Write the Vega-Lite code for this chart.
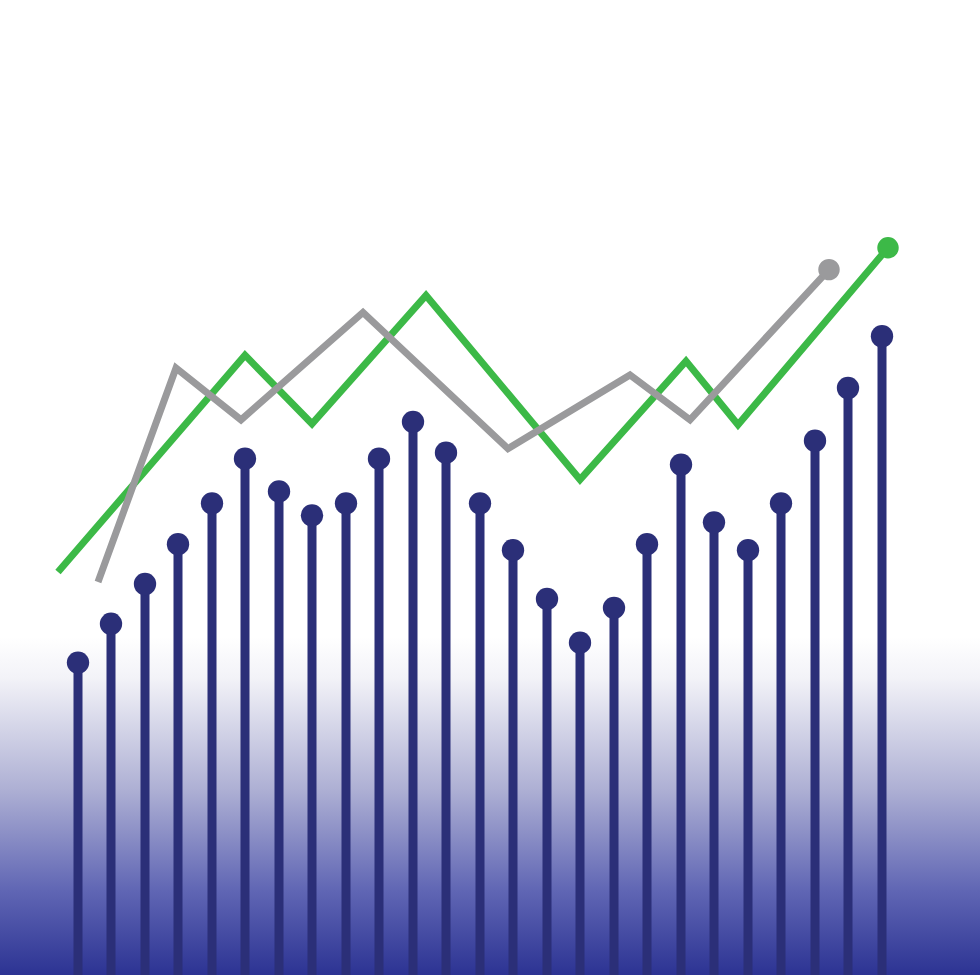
{
  "$schema": "https://vega.github.io/schema/vega-lite/v6.json",
  "autosize": {"type": "fit", "contains": "padding"},
  "width": 980,
  "height": 980,
  "padding": 0,
  "background": "white",
  "config": {"view": {"stroke": null}},
  "datasets": {
    "bg": [{"x": 0, "x2": 980, "y": 0, "y2": 340}],
    "bars": [
      {"x": 78, "v": 314}, {"x": 111, "v": 353}, {"x": 145, "v": 393}, {"x": 178, "v": 433},
      {"x": 212, "v": 474}, {"x": 245, "v": 519}, {"x": 279, "v": 486}, {"x": 312, "v": 462},
      {"x": 346, "v": 474}, {"x": 379, "v": 519}, {"x": 413, "v": 556}, {"x": 446, "v": 525},
      {"x": 480, "v": 474}, {"x": 513, "v": 427}, {"x": 547, "v": 378}, {"x": 580, "v": 334},
      {"x": 614, "v": 369}, {"x": 647, "v": 433}, {"x": 681, "v": 513}, {"x": 714, "v": 455},
      {"x": 748, "v": 427}, {"x": 781, "v": 474}, {"x": 815, "v": 537}, {"x": 848, "v": 590},
      {"x": 882, "v": 642}
    ],
    "lines": [
      {"series": "green", "i": 0, "x": 58, "v": 405},
      {"series": "green", "i": 1, "x": 245, "v": 623},
      {"series": "green", "i": 2, "x": 312, "v": 554},
      {"series": "green", "i": 3, "x": 426, "v": 683},
      {"series": "green", "i": 4, "x": 580, "v": 498},
      {"series": "green", "i": 5, "x": 686, "v": 617},
      {"series": "green", "i": 6, "x": 738, "v": 553},
      {"series": "green", "i": 7, "x": 888, "v": 731},
      {"series": "gray", "i": 0, "x": 98, "v": 395},
      {"series": "gray", "i": 1, "x": 176, "v": 610},
      {"series": "gray", "i": 2, "x": 241, "v": 558},
      {"series": "gray", "i": 3, "x": 363, "v": 666},
      {"series": "gray", "i": 4, "x": 508, "v": 529},
      {"series": "gray", "i": 5, "x": 630, "v": 603},
      {"series": "gray", "i": 6, "x": 690, "v": 558},
      {"series": "gray", "i": 7, "x": 829, "v": 709}
    ],
    "ends": [
      {"series": "green", "x": 888, "v": 731},
      {"series": "gray", "x": 829, "v": 709}
    ]
  },
  "encoding": {
    "x": {"field": "x", "type": "quantitative", "scale": {"domain": [0, 980], "nice": false, "zero": false}, "axis": null}
  },
  "layer": [
    {
      "data": {"name": "bg"},
      "mark": {
        "type": "rect",
        "fill": {
          "gradient": "linear", "x1": 0, "y1": 0, "x2": 0, "y2": 1,
          "stops": [
            {"offset": 0, "color": "#ffffff"},
            {"offset": 0.12, "color": "#f3f3f8"},
            {"offset": 0.45, "color": "#aeb0d4"},
            {"offset": 0.75, "color": "#6066b4"},
            {"offset": 1, "color": "#2c3393"}
          ]
        }
      },
      "encoding": {
        "x2": {"field": "x2"},
        "y": {"field": "y", "type": "quantitative", "scale": {"domain": [5, 980], "nice": false, "zero": false}, "axis": null},
        "y2": {"field": "y2"}
      }
    },
    {
      "data": {"name": "bars"},
      "mark": {"type": "rule", "strokeWidth": 9, "color": "#2b2f78"},
      "encoding": {
        "y": {"field": "v", "type": "quantitative", "scale": {"domain": [5, 980], "nice": false, "zero": false}, "axis": null},
        "y2": {"datum": 0}
      }
    },
    {
      "data": {"name": "bars"},
      "mark": {"type": "circle", "size": 500, "opacity": 1, "color": "#2b2f78"},
      "encoding": {
        "y": {"field": "v", "type": "quantitative", "scale": {"domain": [5, 980], "nice": false, "zero": false}, "axis": null}
      }
    },
    {
      "data": {"name": "lines"},
      "mark": {"type": "line", "strokeWidth": 7, "strokeJoin": "miter", "strokeCap": "butt"},
      "encoding": {
        "y": {"field": "v", "type": "quantitative", "scale": {"domain": [5, 980], "nice": false, "zero": false}, "axis": null},
        "order": {"field": "i"},
        "color": {"field": "series", "type": "nominal", "scale": {"domain": ["green", "gray"], "range": ["#3cb947", "#9a9a9c"]}, "legend": null}
      }
    },
    {
      "data": {"name": "ends"},
      "mark": {"type": "circle", "size": 460, "opacity": 1},
      "encoding": {
        "y": {"field": "v", "type": "quantitative", "scale": {"domain": [5, 980], "nice": false, "zero": false}, "axis": null},
        "color": {"field": "series", "type": "nominal", "scale": {"domain": ["green", "gray"], "range": ["#3cb947", "#9a9a9c"]}, "legend": null}
      }
    }
  ]
}
